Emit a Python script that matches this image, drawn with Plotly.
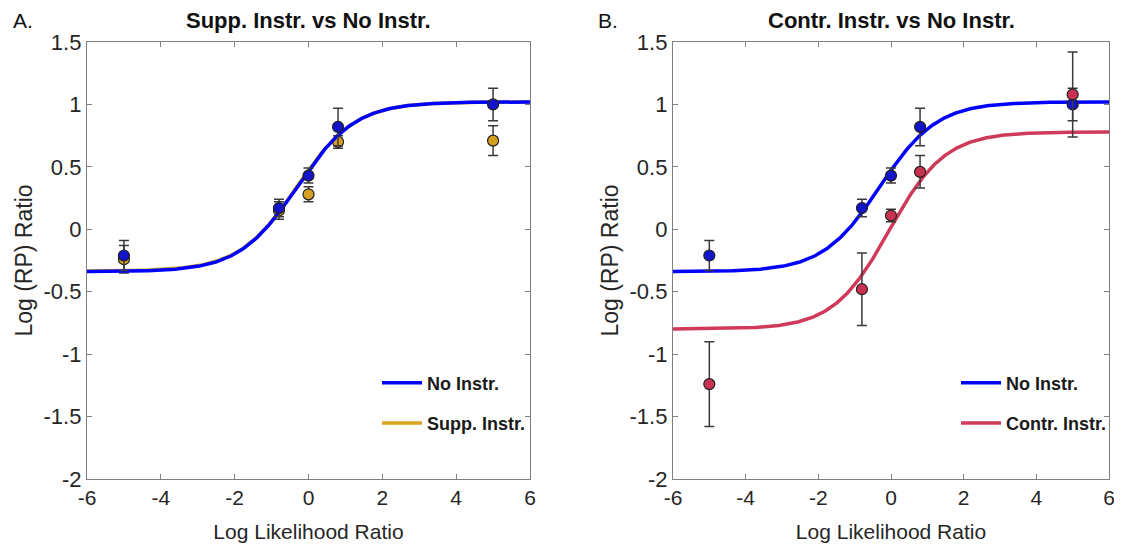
import numpy as np
import plotly.graph_objects as go

# ---------------- data ----------------
llr = [-5, -0.8, 0, 0.8, 5]

no_instr = [-0.21, 0.17, 0.43, 0.82, 1.00]
no_instr_err = [0.12, 0.07, 0.06, 0.15, 0.13]

supp_instr = [-0.24, 0.15, 0.28, 0.70, 0.71]
supp_instr_err = [0.11, 0.07, 0.06, 0.05, 0.12]

contr_instr = [-1.24, -0.48, 0.11, 0.46, 1.08]
contr_instr_err = [0.34, 0.29, 0.05, 0.13, 0.34]

# fitted logistic parameters: (lower, upper, slope, midpoint)
fit_no = (-0.34, 1.02, 1.27, -0.31)
fit_supp = (-0.335, 1.02, 1.27, -0.31)
fit_contr = (-0.80, 0.78, 1.30, -0.05)

x_ticks = [-6, -4, -2, 0, 2, 4, 6]
x_ticklabels = ["-6", "-4", "-2", "0", "2", "4", "6"]
y_ticks = [-2, -1.5, -1, -0.5, 0, 0.5, 1, 1.5]
y_ticklabels = ["-2", "-1.5", "-1", "-0.5", "0", "0.5", "1", "1.5"]

# ---------------- styles ----------------
BLUE = "#0000ff"
BLUE_PT = "#1414c8"
GOLD = "#d9a521"
GOLD_PT = "#d4a020"
RED = "#d03a5a"
RED_PT = "#c83250"
FONT = "Liberation Sans, Arial, sans-serif"
TXT = "#262626"

# page body has an 8px margin -> figure sits at (8, 8) in the window
OFF = 8
W, H = 1122 - OFF, 551 - 2 * OFF


def px(xp):
    return (xp - OFF) / W


def py(yp):
    return 1 - (yp - OFF) / H


xgrid = np.linspace(-6, 6, 400)


def logistic(p):
    lo, hi, k, x0 = p
    return lo + (hi - lo) / (1 + np.exp(-k * (xgrid - x0)))


fig = go.Figure()


def add_line(p, color, name, xa, ya, legend, rank):
    fig.add_trace(go.Scatter(x=xgrid, y=logistic(p), mode="lines",
                             line=dict(color=color, width=3.5), name=name,
                             legendgroup=legend + name, legendrank=rank,
                             xaxis=xa, yaxis=ya, legend=legend, showlegend=True))


def add_pts(y, err, color, xa, ya):
    fig.add_trace(go.Scatter(x=llr, y=y, mode="markers",
                             marker=dict(color=color, size=11,
                                         line=dict(color="#202020", width=1.2)),
                             error_y=dict(type="data", array=err, visible=True,
                                          color="#3a3a3a", thickness=1.5, width=5),
                             xaxis=xa, yaxis=ya, showlegend=False))


# Panel A
add_line(fit_supp, GOLD, "Supp. Instr.", "x", "y", "legend", 2)
add_pts(supp_instr, supp_instr_err, GOLD_PT, "x", "y")
add_line(fit_no, BLUE, "No Instr.", "x", "y", "legend", 1)
add_pts(no_instr, no_instr_err, BLUE_PT, "x", "y")

# Panel B
add_line(fit_contr, RED, "Contr. Instr.", "x2", "y2", "legend2", 2)
add_line(fit_no, BLUE, "No Instr.", "x2", "y2", "legend2", 1)
add_pts(no_instr, no_instr_err, BLUE_PT, "x2", "y2")
add_pts(contr_instr, contr_instr_err, RED_PT, "x2", "y2")

ydom = [py(479), py(42)]
axis_common = dict(showline=True, linecolor="#808080", linewidth=1.3, mirror="ticks",
                   ticks="inside", ticklen=5, tickcolor="#808080", tickwidth=1,
                   showgrid=False, zeroline=False, automargin=False,
                   ticklabeloverflow="allow")

xa = dict(axis_common, range=[-6, 6], tickvals=x_ticks, ticktext=x_ticklabels,
          tickfont=dict(family=FONT, size=21, color=TXT),
          title=dict(text="Log Likelihood Ratio", font=dict(family=FONT, size=21, color=TXT),
                     standoff=22))
ya = dict(axis_common, range=[-2, 1.5], tickvals=y_ticks, ticktext=y_ticklabels,
          tickfont=dict(family=FONT, size=22, color=TXT),
          title=dict(text="Log (RP) Ratio", font=dict(family=FONT, size=23, color=TXT),
                     standoff=4), domain=ydom)

legend_style = dict(xref="paper", yref="paper", xanchor="right", yanchor="middle",
                    traceorder="grouped", bgcolor="rgba(0,0,0,0)",
                    font=dict(family=FONT, size=18, color="#1a1a1a", weight="bold"),
                    itemwidth=40, tracegroupgap=14)

fig.update_layout(
    width=W, height=H,
    margin=dict(l=0, r=0, t=0, b=0),
    plot_bgcolor="white", paper_bgcolor="white",
    font=dict(family=FONT, color=TXT),
    xaxis=dict(xa, domain=[px(87), px(530)], anchor="y"),
    yaxis=dict(ya, anchor="x"),
    xaxis2=dict(xa, domain=[px(673), px(1109)], anchor="y2"),
    yaxis2=dict(ya, anchor="x2"),
    legend=dict(legend_style, x=px(531), y=py(403)),
    legend2=dict(legend_style, x=px(1112), y=py(403)),
    annotations=[
        dict(text="<b>Supp. Instr. vs No Instr.</b>", x=px(308), y=py(21),
             xref="paper", yref="paper", showarrow=False, xanchor="center", yanchor="middle",
             font=dict(family=FONT, size=22, color="#111")),
        dict(text="<b>Contr. Instr. vs No Instr.</b>", x=px(891), y=py(21),
             xref="paper", yref="paper", showarrow=False, xanchor="center", yanchor="middle",
             font=dict(family=FONT, size=22, color="#111")),
        dict(text="A.", x=px(11), y=py(21), xref="paper", yref="paper",
             showarrow=False, xanchor="left", yanchor="middle",
             font=dict(family=FONT, size=21, color="#111")),
        dict(text="B.", x=px(596), y=py(21), xref="paper", yref="paper",
             showarrow=False, xanchor="left", yanchor="middle",
             font=dict(family=FONT, size=21, color="#111")),
    ],
)

fig.write_html("out.html")
